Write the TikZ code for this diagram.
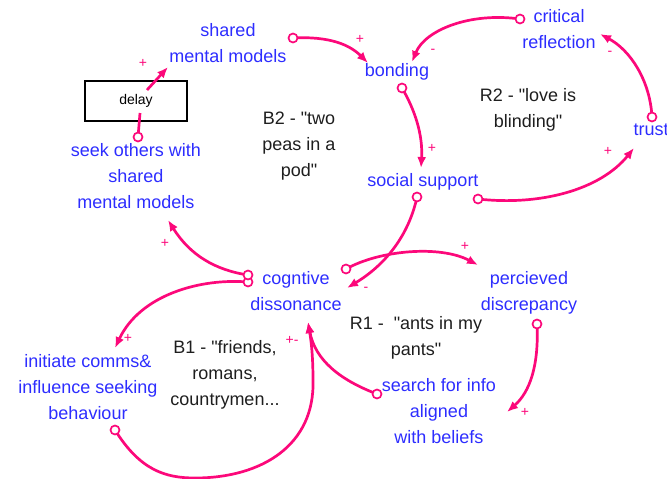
\documentclass[tikz,border=0pt]{standalone}
\usepackage{fontspec}
\setmainfont{Liberation Sans}
\usetikzlibrary{arrows.meta}
\definecolor{linkpink}{RGB}{252,8,122}
\definecolor{varblue}{RGB}{45,45,255}
\definecolor{loopblack}{RGB}{30,30,30}
\newcommand{\sq}{\textquotedbl}
\begin{document}
\begin{tikzpicture}[x=1pt,y=-1pt,
  var/.style={text=varblue, align=center, inner sep=0pt, font=\fontsize{18}{26}\selectfont},
  looplabel/.style={text=loopblack, align=center, inner sep=0pt, font=\fontsize{18}{26}\selectfont},
  link/.style={draw=linkpink, line width=2.7pt, -{Latex[length=11pt,width=9pt]}},
  plainlink/.style={draw=linkpink, line width=2.7pt},
  tail/.style={circle, draw=linkpink, fill=white, line width=1.7pt, minimum size=9pt, inner sep=0pt},
  sign/.style={text=linkpink, inner sep=0pt, font=\fontsize{14}{14}\selectfont},
  delaybox/.style={draw=black, line width=1.3pt, fill=white, minimum width=102pt, minimum height=40pt, inner sep=0pt, font=\fontsize{14}{14}\selectfont}]
\useasboundingbox (0,0) rectangle (667,479);

% delay marker on the seek -> shared models link
\node[delaybox] (delay) at (136,101) {delay};

% variables
\node[var] (smm) at (228,43) {shared\\mental models};
\node[var] (bond) at (397,72) {bonding};
\node[var] (crit) at (559,29) {critical\\reflection};
\node[var] (trust) at (651,130) {trust};
\node[var] (soc) at (423,182) {social support};
\node[var] (seek) at (136,176) {seek others with\\shared\\mental models};
\node[var] (cog) at (296,291) {cogntive\\dissonance};
\node[var] (perc) at (529,293) {percieved\\discrepancy};
\node[var] (search) at (439,411) {search for info\\aligned\\with beliefs};
\node[var] (init) at (88,387) {initiate comms\&\\influence seeking\\behaviour};

% loop labels
\node[looplabel] (b2) at (299,146) {B2 - \sq two\\peas in a\\pod\sq};
\node[looplabel] (r2) at (528,110) {R2 - \sq love is\\blinding\sq};
\node[looplabel] (r1) at (416,338) {R1 -\ \ \sq ants in my\\pants\sq};
\node[looplabel] (b1) at (225,375) {B1 - \sq friends,\\romans,\\countrymen...};

% link end points
\coordinate (smm-o) at (293,38);
\coordinate (bond-a) at (368,63);
\coordinate (crit-o) at (520,19);
\coordinate (bond-b) at (412,62);
\coordinate (bond-o) at (402,88);
\coordinate (soc-a) at (421,168);
\coordinate (soc-o1) at (478,199);
\coordinate (trust-a) at (634,148);
\coordinate (trust-o) at (652,117);
\coordinate (crit-a) at (600,34);
\coordinate (soc-o2) at (417,197);
\coordinate (cog-a1) at (347,288);
\coordinate (cog-o1) at (346,269);
\coordinate (perc-a) at (478,265);
\coordinate (perc-o) at (537,324);
\coordinate (search-a) at (507,412);
\coordinate (search-o) at (377,394);
\coordinate (cog-a2) at (308,322);
\coordinate (init-o) at (115,430);
\coordinate (cog-o2) at (248,282);
\coordinate (init-a) at (115,348);
\coordinate (cog-o3) at (248,275);
\coordinate (seek-a) at (168,220);
\coordinate (seek-o) at (138,137);
\coordinate (delay-in) at (140,113);
\coordinate (delay-out) at (147,90);
\coordinate (smm-a) at (168,67);

% links
\draw[link] (smm-o) .. controls (330,36) and (350,45) .. (bond-a);
\draw[link] (crit-o) .. controls (470,12) and (425,30) .. (bond-b);
\draw[link] (bond-o) .. controls (415,110) and (423,135) .. (soc-a);
\draw[link] (soc-o1) .. controls (540,206) and (600,190) .. (trust-a);
\draw[link] (trust-o) .. controls (650,80) and (630,50) .. (crit-a);
\draw[link] (soc-o2) .. controls (410,230) and (390,262) .. (cog-a1);
\draw[link] (cog-o1) .. controls (380,250) and (440,245) .. (perc-a);
\draw[link] (perc-o) .. controls (539,365) and (530,392) .. (search-a);
\draw[link] (search-o) .. controls (340,380) and (315,360) .. (cog-a2);
\draw[link] (init-o) .. controls (140,470) and (165,478) .. (195,478)
  .. controls (262,478) and (315,445) .. (313,380)
  .. controls (313,355) and (311,340) .. (cog-a2);
\draw[link] (cog-o2) .. controls (200,278) and (140,295) .. (init-a);
\draw[link] (cog-o3) .. controls (215,270) and (190,255) .. (seek-a);
\draw[plainlink] (seek-o) -- (delay-in);
\draw[link] (delay-out) -- (smm-a);

% link tails
\foreach \c in {smm-o,crit-o,bond-o,soc-o1,trust-o,soc-o2,cog-o1,perc-o,search-o,init-o,cog-o2,cog-o3,seek-o}
  \node[tail] at (\c) {};

% polarities
\node[sign] (s1) at (360,39) {+};
\node[sign] (s2) at (433,51) {-};
\node[sign] (s3) at (432,148) {+};
\node[sign] (s4) at (608,151) {+};
\node[sign] (s5) at (610,53) {-};
\node[sign] (s6) at (366,289) {-};
\node[sign] (s7) at (465,246) {+};
\node[sign] (s8) at (525,412) {+};
\node[sign] (s9) at (292,340) {+-};
\node[sign] (s10) at (128,338) {+};
\node[sign] (s11) at (165,243) {+};
\node[sign] (s12) at (143,63) {+};
\end{tikzpicture}
\end{document}
